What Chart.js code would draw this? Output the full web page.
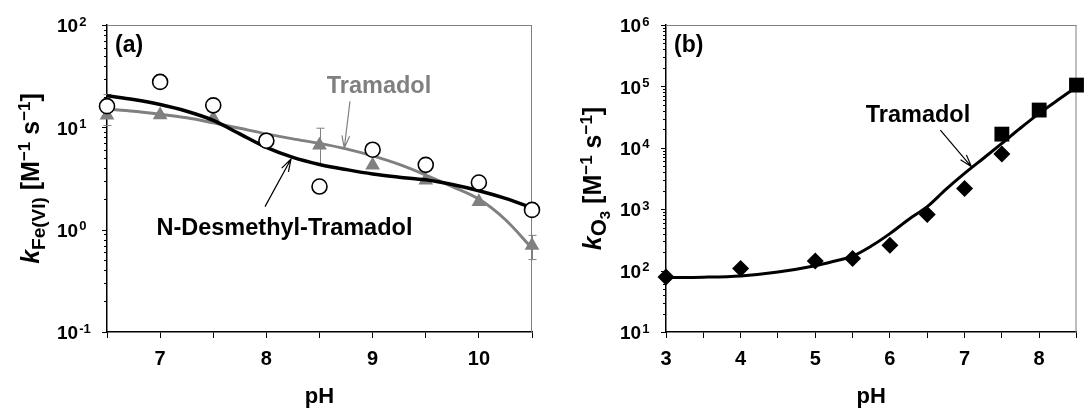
<!DOCTYPE html>
<html>
<head>
<meta charset="utf-8">
<script src="https://cdn.jsdelivr.net/npm/chart.js@4.4.1/dist/chart.umd.min.js"></script>
<style>
  body { margin: 0; background: #fff; width: 1087px; height: 408px; overflow: hidden; position: relative; }
  canvas { position: absolute; top: 0; }
  #chartA { left: 0; }
  #chartB { left: 545px; }
</style>
</head>
<body>
<canvas id="chartA" width="545" height="408"></canvas>
<canvas id="chartB" width="542" height="408"></canvas>
<script>
// (a) Fe(VI) rate constants vs pH
const pHA = [6.5, 7, 7.5, 8, 8.5, 9, 9.5, 10, 10.5];
const kFeDesmethyl = [16.1, 27.8, 16.4, 7.4, 2.64, 6.04, 4.3, 2.89, 1.56];
const kFeTramadol = [13.1, 13.2, 12.2, 7.4, 6.7, 4.27, 3.04, 1.87, 0.70];
const kFeTramadolLo = [10.4, null, 11.2, null, 4.3, null, null, null, 0.51];
const kFeTramadolHi = [20.9, null, 16.0, null, 9.8, null, null, null, 0.88];
const pHFitA = [6.5, 6.75, 7, 7.25, 7.5, 7.75, 8, 8.25, 8.5, 8.75, 9, 9.25, 9.5, 9.75, 10, 10.25, 10.5];
const fitDesmethylA = [20.4, 18.7, 16.7, 14.35, 11.7, 8.63, 6.37, 5.08, 4.34, 3.87, 3.5, 3.26, 3.07, 2.76, 2.4, 2.02, 1.64];
const fitTramadolA = [15.1, 14.35, 13.4, 12.39, 11.07, 9.78, 8.63, 7.71, 6.97, 6.16, 5.26, 4.34, 3.42, 2.64, 1.99, 1.25, 0.66];

// (b) O3 rate constants vs pH
const pHB = [3, 4, 5, 5.5, 6, 6.5, 7, 7.5];
const kO3Diamond = [78.8, 108, 144, 157, 259, 820, 2180, 7890];
const pHB2 = [7.5, 8, 8.5];
const kO3Square = [16700, 41200, 105000];
const pHFitB = [3, 3.5, 4, 4.5, 5, 5.25, 5.5, 5.75, 6, 6.25, 6.5, 6.75, 7, 7.25, 7.5, 7.75, 8, 8.25, 8.5];
const fitTramadolB = [77, 78, 82, 95, 120, 142, 172, 251, 400, 680, 1100, 2100, 3820, 6700, 11800, 21000, 36400, 60000, 98000];

const FONT = '"Liberation Sans", Arial, Helvetica, sans-serif';
Chart.defaults.font.family = FONT;
Chart.defaults.color = '#000';

const pts = (xs, ys) => xs.map((x, i) => ({ x: x, y: ys[i] }));

function drawArrow(ctx, x1, y1, x2, y2, color) {
  const ang = Math.atan2(y2 - y1, x2 - x1);
  const head = 13, spread = 0.3;
  ctx.strokeStyle = color;
  ctx.lineWidth = 1.2;
  ctx.beginPath();
  ctx.moveTo(x1, y1);
  ctx.lineTo(x2, y2);
  ctx.moveTo(x2 - head * Math.cos(ang - spread), y2 - head * Math.sin(ang - spread));
  ctx.lineTo(x2, y2);
  ctx.lineTo(x2 - head * Math.cos(ang + spread), y2 - head * Math.sin(ang + spread));
  ctx.stroke();
}

// rotated axis title made of pieces (italic k, subscripts, superscripts)
function drawRich(ctx, parts, cx, cy) {
  ctx.save();
  ctx.translate(cx, cy);
  ctx.rotate(-Math.PI / 2);
  ctx.textAlign = 'left';
  ctx.textBaseline = 'alphabetic';
  ctx.fillStyle = '#000';
  let total = 0;
  parts.forEach(p => { ctx.font = p.font; p.w = ctx.measureText(p.text).width; total += p.w; });
  let x = -total / 2;
  parts.forEach(p => { ctx.font = p.font; ctx.fillText(p.text, x, p.dy || 0); x += p.w; });
  ctx.restore();
}

const panelDecor = {
  id: 'panelDecor',
  beforeDatasetsDraw(chart, args, o) {
    const { ctx, chartArea: a, scales: { x, y } } = chart;
    ctx.save();
    // light frame on top and right
    ctx.strokeStyle = '#808080';
    ctx.lineWidth = 1;
    ctx.beginPath();
    ctx.moveTo(a.left, a.top + 0.5);
    ctx.lineTo(a.right, a.top + 0.5);
    ctx.moveTo(a.right - 0.5, a.top);
    ctx.lineTo(a.right - 0.5, a.bottom);
    ctx.stroke();
    // error bars
    (o.errorBars || []).forEach(eb => {
      ctx.strokeStyle = eb.color;
      ctx.lineWidth = 1;
      eb.x.forEach((v, i) => {
        if (eb.lo[i] == null) return;
        const px = Math.round(x.getPixelForValue(v)) + 0.5;
        const y1 = y.getPixelForValue(eb.lo[i]);
        const y2 = y.getPixelForValue(eb.hi[i]);
        ctx.beginPath();
        ctx.moveTo(px, y1); ctx.lineTo(px, y2);
        ctx.moveTo(px - 4, y1); ctx.lineTo(px + 4, y1);
        ctx.moveTo(px - 4, y2); ctx.lineTo(px + 4, y2);
        ctx.stroke();
      });
    });
    ctx.restore();
  },
  afterDraw(chart, args, o) {
    const { ctx, chartArea: a, scales: { x, y } } = chart;
    ctx.save();
    // log ticks and 10^n labels on the y axis
    const e0 = Math.round(Math.log10(y.min));
    const e1 = Math.round(Math.log10(y.max));
    ctx.strokeStyle = '#000';
    ctx.lineWidth = 1;
    ctx.fillStyle = '#000';
    for (let e = e0; e <= e1; e++) {
      for (let m = 1; m <= 9; m++) {
        if (e === e1 && m > 1) break;
        const py = Math.round(y.getPixelForValue(m * Math.pow(10, e))) + 0.5;
        const len = m === 1 ? 5 : 3;
        ctx.beginPath();
        ctx.moveTo(a.left - len, py);
        ctx.lineTo(a.left, py);
        ctx.stroke();
      }
      const py = y.getPixelForValue(Math.pow(10, e));
      ctx.textAlign = 'left';
      ctx.textBaseline = 'middle';
      ctx.font = 'bold 19px ' + FONT;
      ctx.fillText('10', o.tickLabelX, py + 2);
      const w = ctx.measureText('10').width;
      ctx.font = 'bold 13px ' + FONT;
      ctx.fillText(String(e), o.tickLabelX + w + 1, py - 3);
    }
    // y axis title
    drawRich(ctx, o.yTitle, o.yTitleX, (a.top + a.bottom) / 2);
    // panel letter
    ctx.font = 'bold 23px ' + FONT;
    ctx.textAlign = 'left';
    ctx.textBaseline = 'middle';
    ctx.fillStyle = '#000';
    ctx.fillText(o.panel, a.left + 8, a.top + 21);
    // curve labels with arrows
    (o.notes || []).forEach(n => {
      ctx.font = 'bold 23.5px ' + FONT;
      ctx.fillStyle = n.color;
      ctx.textAlign = 'center';
      ctx.textBaseline = 'middle';
      ctx.fillText(n.text, x.getPixelForValue(n.x), y.getPixelForValue(n.y));
      if (n.arrow) {
        drawArrow(ctx,
          x.getPixelForValue(n.arrow[0]), y.getPixelForValue(n.arrow[1]),
          x.getPixelForValue(n.arrow[2]), y.getPixelForValue(n.arrow[3]), n.color);
      }
    });
    ctx.restore();
  }
};

function xAxis(min, max, height) {
  return {
    type: 'linear', min: min, max: max,
    afterFit: s => { s.height = height; },
    ticks: {
      stepSize: 0.5, autoSkip: false, maxRotation: 0, padding: 9,
      font: { size: 20, weight: 'bold' }, color: '#000',
      callback: v => Number.isInteger(v) ? String(v) : ''
    },
    grid: { drawOnChartArea: false, color: '#000', tickLength: 6, lineWidth: 1 },
    border: { color: '#000', width: 1.5 },
    title: { display: true, text: 'pH', color: '#000', font: { size: 22, weight: 'bold' }, padding: { top: 0, bottom: -2 } }
  };
}

function yAxis(min, max, width) {
  return {
    type: 'logarithmic', min: min, max: max,
    afterFit: s => { s.width = width; },
    ticks: { display: false },
    grid: { display: false },
    border: { color: '#000', width: 1.5 }
  };
}

const sub = 'bold 19px ' + FONT, sup = 'bold 17px ' + FONT, main = 'bold 25px ' + FONT;

new Chart(document.getElementById('chartA'), {
  type: 'scatter',
  data: {
    datasets: [
      { label: 'N-Desmethyl-Tramadol', data: pts(pHA, kFeDesmethyl), pointStyle: 'circle', pointRadius: 7.5,
        pointBackgroundColor: '#fff', pointBorderColor: '#000', pointBorderWidth: 1.6, clip: false },
      { label: 'N-Desmethyl-Tramadol fit', data: pts(pHFitA, fitDesmethylA), showLine: true, pointRadius: 0,
        borderColor: '#000', borderWidth: 3.5, cubicInterpolationMode: 'monotone' },
      { label: 'Tramadol', data: pts(pHA, kFeTramadol), pointStyle: 'triangle', pointRadius: 8.5,
        pointBackgroundColor: '#808080', pointBorderColor: '#808080', pointBorderWidth: 0, clip: false },
      { label: 'Tramadol fit', data: pts(pHFitA, fitTramadolA), showLine: true, pointRadius: 0,
        borderColor: '#808080', borderWidth: 3, cubicInterpolationMode: 'monotone' }
    ]
  },
  options: {
    responsive: false, animation: false,
    layout: { padding: { top: 25, right: 13, left: 0, bottom: 0 } },
    scales: { x: xAxis(6.5, 10.5, 76), y: yAxis(0.1, 100, 107) },
    plugins: {
      legend: { display: false }, tooltip: { enabled: false },
      panelDecor: {
        panel: '(a)', tickLabelX: 57, yTitleX: 39,
        yTitle: [
          { text: 'k', font: 'italic ' + main },
          { text: 'Fe(VI)', font: sub, dy: 6 },
          { text: ' [M', font: main },
          { text: '\u22121', font: sup, dy: -9 },
          { text: ' s', font: main },
          { text: '\u22121', font: sup, dy: -9 },
          { text: ']', font: main }
        ],
        errorBars: [{ x: pHA, lo: kFeTramadolLo, hi: kFeTramadolHi, color: '#808080' }],
        notes: [
          { text: 'Tramadol', color: '#808080', x: 9.06, y: 25.2, arrow: [8.787, 18.0, 8.733, 6.27] },
          { text: 'N-Desmethyl-Tramadol', color: '#000', x: 8.17, y: 1.02, arrow: [7.987, 1.68, 8.232, 4.9] }
        ]
      }
    }
  },
  plugins: [panelDecor]
});

new Chart(document.getElementById('chartB'), {
  type: 'scatter',
  data: {
    datasets: [
      { label: 'Tramadol (high pH)', data: pts(pHB2, kO3Square), pointStyle: 'rect', pointRadius: 10.5,
        pointBackgroundColor: '#000', pointBorderColor: '#000', pointBorderWidth: 0, clip: false },
      { label: 'Tramadol', data: pts(pHB, kO3Diamond), pointStyle: 'rectRot', pointRadius: 8.5,
        pointBackgroundColor: '#000', pointBorderColor: '#000', pointBorderWidth: 0, clip: false },
      { label: 'Tramadol fit', data: pts(pHFitB, fitTramadolB), showLine: true, pointRadius: 0,
        borderColor: '#000', borderWidth: 3, cubicInterpolationMode: 'monotone' }
    ]
  },
  options: {
    responsive: false, animation: false,
    layout: { padding: { top: 25, right: 0, left: 0, bottom: 0 } },
    scales: { x: xAxis(3, 8.5, 76), y: yAxis(10, 1e6, 121) },
    plugins: {
      legend: { display: false }, tooltip: { enabled: false },
      panelDecor: {
        panel: '(b)', tickLabelX: 75, yTitleX: 56,
        yTitle: [
          { text: 'k', font: 'italic ' + main },
          { text: 'O', font: 'bold 22px ' + FONT, dy: 5 },
          { text: '3', font: 'bold 15px ' + FONT, dy: 9 },
          { text: ' [M', font: main },
          { text: '\u22121', font: sup, dy: -9 },
          { text: ' s', font: main },
          { text: '\u22121', font: sup, dy: -9 },
          { text: ']', font: main }
        ],
        notes: [
          { text: 'Tramadol', color: '#000', x: 6.376, y: 34100, arrow: [6.676, 19400, 7.093, 4900] }
        ]
      }
    }
  },
  plugins: [panelDecor]
});
</script>
</body>
</html>
